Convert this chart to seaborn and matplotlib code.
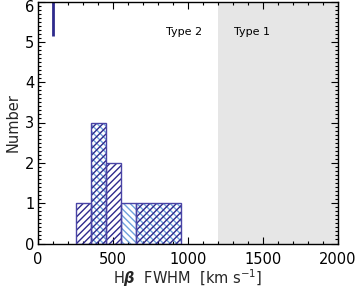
import numpy as np
import pandas as pd
import matplotlib
matplotlib.use("Agg")
import matplotlib.pyplot as plt
import matplotlib.transforms as mtransforms
import seaborn as sns
from matplotlib.ticker import MultipleLocator

# ---- data ----
bin_edges = [250, 350, 450, 550, 650, 950]
dark_counts = [1, 3, 2, 0, 1]     # '///' hatched sample
light_counts = [0, 3, 0, 1, 1]    # '\\\' hatched sample
marker_x = [100]
marker_y = [5.15, 6.2]
type1_range = [1200, 2000]
x_ticks = [0, 500, 1000, 1500, 2000]
y_ticks = [0, 1, 2, 3, 4, 5, 6]
labels = ["Type 2", "Type 1"]
label_x = [850, 1310]
label_y = 5.25

DARK = "#2e2a8c"
EDGE = "#4a44a6"
LIGHT = "#6fa3dc"

sns.set_style("ticks")
plt.rcParams["font.family"] = ["DejaVu Sans"]

fig = plt.figure(figsize=(3.57, 2.88), dpi=100)
ax = fig.add_axes([38 / 357, (288 - 243.5) / 288, 300 / 357, 242 / 288])

ax.axvspan(type1_range[0], type1_range[1], color="#e6e6e6", lw=0, zorder=0)

centers = [(a + b) / 2 for a, b in zip(bin_edges[:-1], bin_edges[1:])]
df = pd.DataFrame({"x": centers, "dark": dark_counts, "light": light_counts,
                   "outline": np.maximum(dark_counts, light_counts)})


def hist(weights, **kw):
    before = list(ax.patches)
    sns.histplot(data=df, x="x", weights=weights, bins=bin_edges, ax=ax, **kw)
    return [p for p in ax.patches if p not in before]


for p in hist("light"):
    p.set_facecolor("none")
    p.set_edgecolor(LIGHT)
    p.set_linewidth(0)
    p.set_hatch("\\\\\\\\\\")
    p.set_zorder(2)
for p in hist("dark"):
    p.set_facecolor("none")
    p.set_edgecolor(DARK)
    p.set_linewidth(0)
    p.set_hatch("/////")
    p.set_zorder(3)
for p in hist("outline"):
    p.set_facecolor("none")
    p.set_edgecolor(EDGE)
    p.set_linewidth(1.0)
    p.set_zorder(4)

ax.vlines(marker_x, marker_y[0], marker_y[1], color=DARK, lw=2, zorder=5)

for t, x in zip(labels, label_x):
    ax.text(x, label_y, t, fontsize=8, color="black", va="center", ha="left")

ax.set_xlim(0, 2000)
ax.set_ylim(0, 6)
ax.set_xticks(x_ticks)
ax.set_yticks(y_ticks)
ax.xaxis.set_minor_locator(MultipleLocator(100))
ax.yaxis.set_minor_locator(MultipleLocator(0.1))
ax.tick_params(which="both", direction="in", top=True, right=True,
               labelsize=10.5, colors="black", width=0.8)
ax.tick_params(which="major", length=5)
ax.tick_params(which="minor", length=2.5)
ax.tick_params(axis="x", which="major", pad=6)
ax.tick_params(axis="y", which="major", pad=2.5)
for s in ax.spines.values():
    s.set_linewidth(1.0)
    s.set_color("black")
    s.set_zorder(6)

# keep the top y tick label inside the figure, as in the reference
fig.canvas.draw()
top_lab = ax.get_yticklabels()[-1]
top_lab.set_va("top")
top_lab.set_transform(top_lab.get_transform()
                      + mtransforms.ScaledTranslation(0, 1 / 100, fig.dpi_scale_trans))

ax.set_xlabel(r"H$\boldsymbol{\beta}$  FWHM  [km s$^{-1}$]", fontsize=10.5, labelpad=0)
ax.set_ylabel("Number", fontsize=10.5, labelpad=3)

fig.savefig("out.png", dpi=100)
